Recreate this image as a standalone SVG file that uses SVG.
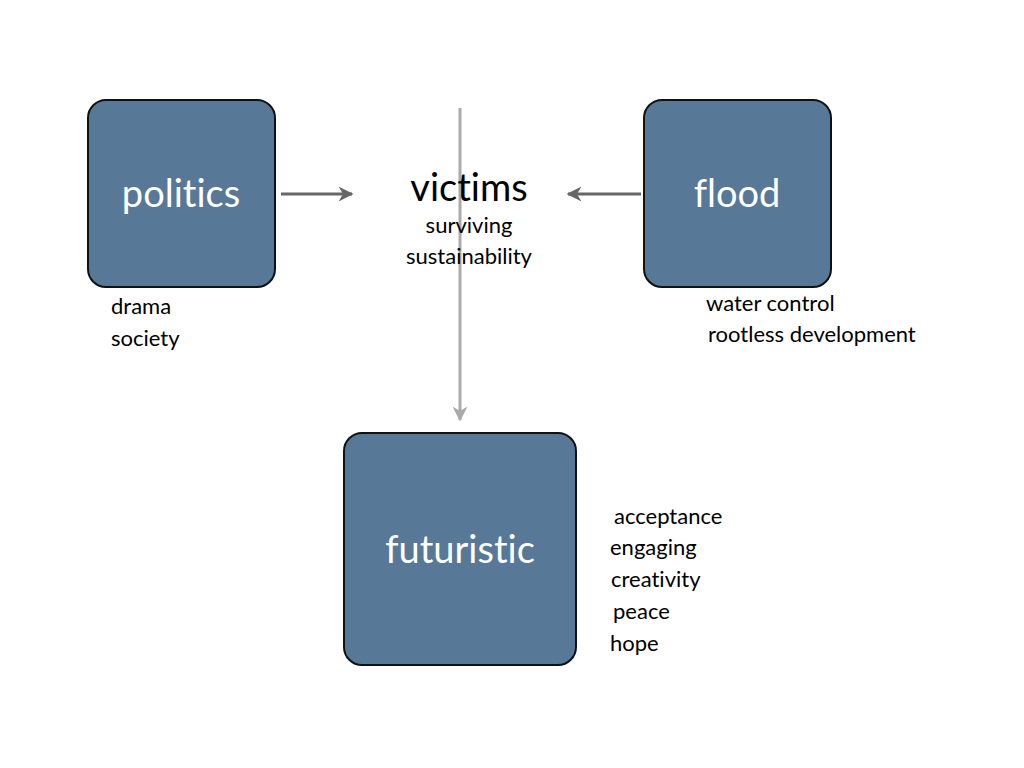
<svg xmlns="http://www.w3.org/2000/svg" width="1024" height="768" viewBox="0 0 1024 768">
<style>
.box{fill:#587898;stroke:#111;stroke-width:2}
.t{font-family:Lato,"Open Sans","Liberation Sans",sans-serif;font-variant-ligatures:none;font-feature-settings:"liga" 0}
.big{font-size:38px;fill:#fff;text-anchor:middle}
.sm{font-size:22px;fill:#000}
</style>
<defs>
<marker id="ad" viewBox="0 0 10 10" refX="9" refY="5" markerWidth="5" markerHeight="5" orient="auto" markerUnits="strokeWidth"><path d="M0,0 L10,5 L0,10 L3,5 z" fill="#666"/></marker>
<marker id="al" viewBox="0 0 10 10" refX="9" refY="5" markerWidth="5" markerHeight="5" orient="auto" markerUnits="strokeWidth"><path d="M0,0 L10,5 L0,10 L3,5 z" fill="#aaa"/></marker>
</defs>
<rect width="1024" height="768" fill="#fff"/>
<g id="connectors">
<line x1="281" y1="194" x2="352" y2="194" stroke="#666" stroke-width="3" marker-end="url(#ad)"/>
<line x1="641" y1="194" x2="568" y2="194" stroke="#666" stroke-width="3" marker-end="url(#ad)"/>
<line x1="460" y1="108" x2="460" y2="420" stroke="#aaa" stroke-width="3" marker-end="url(#al)"/>
</g>
<g id="politics">
<rect class="box" x="88" y="100" width="187" height="187" rx="18"/>
<text class="t big" x="181" y="207">politics</text>
<text class="t sm" x="111" y="314">drama</text>
<text class="t sm" x="111" y="346">society</text>
</g>
<g id="flood">
<rect class="box" x="644" y="100" width="187" height="187" rx="18"/>
<text class="t big" x="737" y="207">flood</text>
<text class="t sm" x="706" y="311">water control</text>
<text class="t sm" x="708" y="342">rootless development</text>
</g>
<g id="victims">
<text class="t" x="469" y="201" font-size="38" text-anchor="middle" fill="#000">victims</text>
<text class="t sm" x="469" y="233" text-anchor="middle">surviving</text>
<text class="t sm" x="469" y="264" text-anchor="middle">sustainability</text>
</g>
<g id="futuristic">
<rect class="box" x="344" y="433" width="232" height="232" rx="18"/>
<text class="t big" x="460" y="563">futuristic</text>
<text class="t sm" x="614" y="524">acceptance</text>
<text class="t sm" x="610" y="555">engaging</text>
<text class="t sm" x="611" y="587">creativity</text>
<text class="t sm" x="613" y="619">peace</text>
<text class="t sm" x="610" y="651">hope</text>
</g>
</svg>
